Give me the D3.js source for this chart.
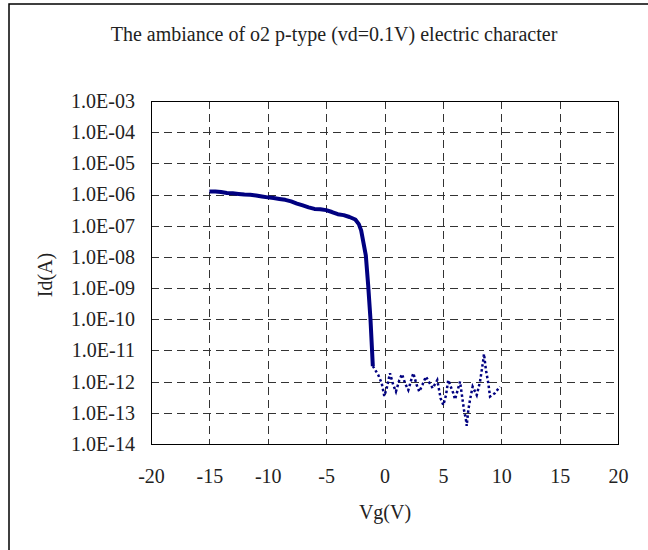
<!DOCTYPE html>
<html>
<head>
<meta charset="utf-8">
<script src="https://cdn.jsdelivr.net/npm/d3@7"></script>
<style>
    body { margin: 0; background: #fff; }
    svg text { font-family: "Liberation Serif", "Times New Roman", serif; fill: #222; }
</style>
</head>
<body>
<div id="chart"></div>
<script>
// Vg (V) and Id (A)
var onVg = [-15, -14.5, -14, -13.5, -13, -12.5, -12, -11.5, -11, -10.5, -10, -9.5, -9, -8.5, -8,
    -7.5, -7, -6.5, -6, -5.5, -5, -4.5, -4, -3.5, -3, -2.5, -2.2, -2, -1.8, -1.6, -1.4, -1.2, -1];
var onLogId = [-5.90, -5.90, -5.92, -5.95, -5.96, -5.98, -6.00, -6.01, -6.03, -6.06, -6.09, -6.11, -6.14, -6.17, -6.22,
    -6.29, -6.35, -6.41, -6.46, -6.47, -6.50, -6.56, -6.63, -6.66, -6.72, -6.80, -6.95, -7.15, -7.55, -7.95, -8.9, -10.0, -11.5];

var offVg = [-1, -0.53, -0.24, -0.02, 0.19, 0.47, 0.75, 0.98, 1.27, 1.5, 1.76, 2.04, 2.33, 2.47, 2.76, 2.98,
    3.25, 3.55, 3.84, 4.13, 4.52, 4.81, 5.04, 5.27, 5.46, 5.89, 6.04, 6.23, 6.47, 6.81, 6.98, 7.04, 7.18,
    7.32, 7.55, 7.9, 8.18, 8.46, 8.52, 8.69, 8.89, 9.04, 9.46, 9.89];
var offLogId = [-11.5, -11.79, -12.05, -12.46, -12.21, -11.73, -12.11, -12.32, -11.95, -11.76, -12.05, -12.27, -11.89, -11.73, -12.11, -12.32,
    -12.1, -11.84, -12.03, -12.21, -11.95, -12.54, -12.75, -12.43, -11.95, -12.37, -12.57, -12.32, -12.0, -12.91, -13.23, -13.42, -12.91,
    -12.59, -12.16, -12.43, -12.0, -11.31, -11.11, -11.63, -12.05, -12.48, -12.37, -12.16];

var xTicks = [-20, -15, -10, -5, 0, 5, 10, 15, 20];
var yTicks = [1e-3, 1e-4, 1e-5, 1e-6, 1e-7, 1e-8, 1e-9, 1e-10, 1e-11, 1e-12, 1e-13, 1e-14];
var yTickLabels = ["1.0E-03", "1.0E-04", "1.0E-05", "1.0E-06", "1.0E-07", "1.0E-08", "1.0E-09",
    "1.0E-10", "1.0E-11", "1.0E-12", "1.0E-13", "1.0E-14"];

var W = 648, H = 550;
var plot = { left: 151, right: 618, top: 101, bottom: 444 };

var svg = d3.select("#chart").append("svg")
    .attr("width", W)
    .attr("height", H);

svg.append("rect").attr("width", W).attr("height", H).attr("fill", "#fff");

// outer chart frame (runs off the right and bottom edges)
svg.append("rect")
    .attr("x", 9).attr("y", 4)
    .attr("width", 700).attr("height", 600)
    .attr("fill", "none")
    .attr("stroke", "#000")
    .attr("stroke-width", 1.5);

var x = d3.scaleLinear().domain([-20, 20]).range([plot.left, plot.right]);
var y = d3.scaleLog().domain([1e-14, 1e-3]).range([plot.bottom, plot.top]);

// Gridlines
var grid = svg.append("g").attr("class", "grid")
    .attr("stroke", "#333")
    .attr("stroke-width", 1)
    .attr("stroke-dasharray", "8,5");

grid.selectAll("line.h").data(yTicks.slice(1, -1)).enter().append("line")
    .attr("class", "h")
    .attr("x1", plot.left).attr("x2", plot.right)
    .attr("y1", function (d) { return Math.round(y(d)) + 0.5; })
    .attr("y2", function (d) { return Math.round(y(d)) + 0.5; });

grid.selectAll("line.v").data(xTicks.slice(1, -1)).enter().append("line")
    .attr("class", "v")
    .attr("y1", plot.top).attr("y2", plot.bottom)
    .attr("x1", function (d) { return Math.round(x(d)) + 0.5; })
    .attr("x2", function (d) { return Math.round(x(d)) + 0.5; });

// Plot frame
svg.append("rect")
    .attr("x", plot.left + 0.5).attr("y", plot.top + 0.5)
    .attr("width", plot.right - plot.left).attr("height", plot.bottom - plot.top)
    .attr("fill", "none")
    .attr("stroke", "#000")
    .attr("stroke-width", 1);

// Axes (labels only)
var yAxis = d3.axisLeft(y)
    .tickValues(yTicks)
    .tickSize(0)
    .tickPadding(16)
    .tickFormat(function (d, i) { return yTickLabels[i]; });

svg.append("g")
    .attr("transform", "translate(" + plot.left + ",0)")
    .call(yAxis)
    .call(function (g) { g.select(".domain").remove(); })
    .selectAll("text")
    .attr("font-size", "20px")
    .attr("font-family", "Liberation Serif, serif")
    .attr("fill", "#222");

var xAxis = d3.axisBottom(x)
    .tickValues(xTicks)
    .tickSize(0)
    .tickPadding(25)
    .tickFormat(function (d) { return String(d); });

svg.append("g")
    .attr("transform", "translate(0," + plot.bottom + ")")
    .call(xAxis)
    .call(function (g) { g.select(".domain").remove(); })
    .selectAll("text")
    .attr("font-size", "20px")
    .attr("font-family", "Liberation Serif, serif")
    .attr("fill", "#222");

// Data lines
var line = d3.line()
    .x(function (d) { return x(d[0]); })
    .y(function (d) { return y(Math.pow(10, d[1])); });

var onData = onVg.map(function (v, i) { return [v, onLogId[i]]; });
var offData = offVg.map(function (v, i) { return [v, offLogId[i]]; });

svg.append("path")
    .datum(offData)
    .attr("d", line)
    .attr("fill", "none")
    .attr("stroke", "#000080")
    .attr("stroke-width", 2.5)
    .attr("stroke-dasharray", "2.5,2.5");

svg.append("path")
    .datum(onData)
    .attr("d", line)
    .attr("fill", "none")
    .attr("stroke", "#000080")
    .attr("stroke-width", 4)
    .attr("stroke-linejoin", "round");

// Titles
svg.append("text")
    .attr("x", 334).attr("y", 41)
    .attr("text-anchor", "middle")
    .attr("font-size", "20px")
    .text("The ambiance of o2 p-type (vd=0.1V) electric character");

svg.append("text")
    .attr("x", 385).attr("y", 519)
    .attr("text-anchor", "middle")
    .attr("font-size", "20px")
    .text("Vg(V)");

svg.append("text")
    .attr("transform", "translate(52,275) rotate(-90)")
    .attr("text-anchor", "middle")
    .attr("font-size", "20px")
    .text("Id(A)");
</script>
</body>
</html>
